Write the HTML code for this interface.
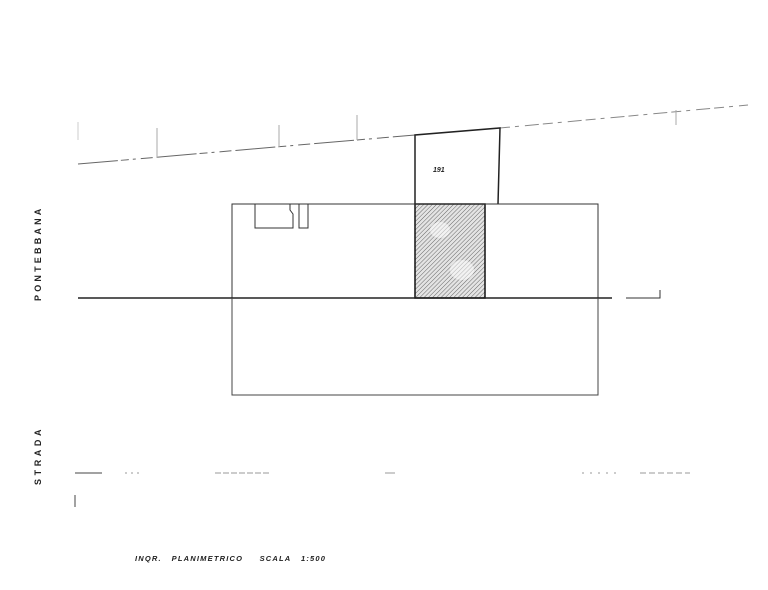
<!DOCTYPE html>
<html><head><meta charset="utf-8"><style>
html,body{margin:0;padding:0;background:#fff;}
svg{display:block}
</style></head><body>
<svg width="768" height="590" viewBox="0 0 768 590" xmlns="http://www.w3.org/2000/svg">
<defs>
<pattern id="h" width="3" height="3" patternUnits="userSpaceOnUse" patternTransform="rotate(45)">
<rect width="3" height="3" fill="#e4e4e4"/>
<line x1="0" y1="0" x2="0" y2="3" stroke="#666" stroke-width="1"/>
</pattern>
</defs>
<!-- top slanted street line -->
<line x1="78" y1="164" x2="415" y2="135" stroke="#666" stroke-width="1" stroke-dasharray="40 3 8 4 3 5 12 4"/>
<line x1="500" y1="128" x2="748" y2="105" stroke="#888" stroke-width="1" stroke-dasharray="10 5 4 6 14 4"/>
<g stroke="#aaa" stroke-width="1">
<line x1="157" y1="128" x2="157" y2="158"/>
<line x1="279" y1="125" x2="279" y2="147"/>
<line x1="357" y1="115" x2="357" y2="140"/>
<line x1="676" y1="110" x2="676" y2="125"/>
<line x1="78" y1="122" x2="78" y2="140" stroke="#ccc"/>
</g>
<!-- parcel 191 -->
<polyline points="415,204 415,135 500,128 498,204" fill="none" stroke="#222" stroke-width="1.5"/>
<text x="433" y="172" font-family="Liberation Sans, sans-serif" font-size="7" font-style="italic" font-weight="bold" fill="#222">191</text>
<!-- building -->
<rect x="415" y="204" width="70" height="94" fill="url(#h)" stroke="#111" stroke-width="1.5"/>
<g fill="#fff" opacity="0.5"><ellipse cx="440" cy="230" rx="10" ry="8"/><ellipse cx="462" cy="270" rx="12" ry="10"/></g>
<rect x="232" y="204" width="366" height="94" fill="none" stroke="#333" stroke-width="1"/>
<polyline points="255,204 255,228 293,228 293,214 290,210 290,204" fill="none" stroke="#333" stroke-width="1"/>
<polyline points="299,204 299,228 308,228 308,204" fill="none" stroke="#333" stroke-width="1"/>
<!-- road line -->
<line x1="78" y1="298" x2="612" y2="298" stroke="#222" stroke-width="1.5"/>
<polyline points="626,298 660,298 660,290" fill="none" stroke="#333" stroke-width="1"/>
<!-- lower block -->
<polyline points="232,298 232,395 598,395 598,298" fill="none" stroke="#444" stroke-width="1"/>
<!-- bottom street line -->
<g stroke="#999" stroke-width="1">
<line x1="75" y1="473" x2="102" y2="473" stroke="#444"/>
<line x1="125" y1="473" x2="140" y2="473" stroke-dasharray="2 4"/>
<line x1="215" y1="473" x2="270" y2="473" stroke-dasharray="6 2"/>
<line x1="385" y1="473" x2="395" y2="473"/>
<line x1="582" y1="473" x2="620" y2="473" stroke-dasharray="2 6"/>
<line x1="640" y1="473" x2="690" y2="473" stroke-dasharray="6 3"/>
</g>
<line x1="75" y1="495" x2="75" y2="507" stroke="#444" stroke-width="1"/>
<!-- labels -->
<text transform="translate(41,301) rotate(-90)" font-family="Liberation Sans, sans-serif" font-size="9" font-weight="bold" letter-spacing="3.2" fill="#222">PONTEBBANA</text>
<text transform="translate(41,485) rotate(-90)" font-family="Liberation Sans, sans-serif" font-size="9" font-weight="bold" letter-spacing="3.6" fill="#222">STRADA</text>
<text x="135" y="561" font-family="Liberation Sans, sans-serif" font-size="7.5" font-style="italic" font-weight="bold" fill="#222" letter-spacing="1.2" xml:space="preserve">INQR.   PLANIMETRICO     SCALA   1:500</text>
</svg>
</body></html>
